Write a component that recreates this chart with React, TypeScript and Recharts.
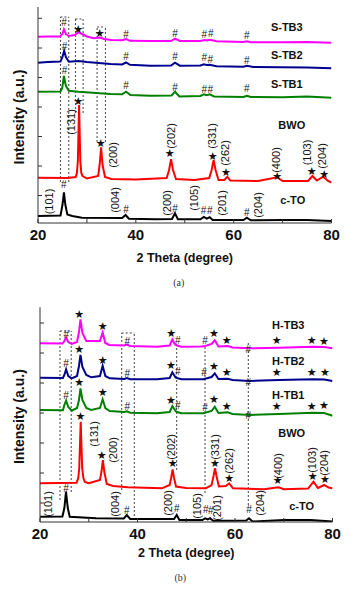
import React from 'react';
import { ComposedChart, Line, Scatter, XAxis, YAxis, ReferenceLine } from 'recharts';

const SANS = '"Liberation Sans", Arial, Helvetica, sans-serif';
const SERIF = '"Liberation Serif", "Times New Roman", serif';

const X_TICKS = [20, 30, 40, 50, 60, 70, 80];
const X_LABELED = [20, 40, 60, 80];
const COLORS = ['#ff00ff', '#00008f', '#008000', '#ff0000', '#000000'];

// ---------------- panel (a) ----------------
const aSTB3 = [[20,186.3],[22,186.5],[24.5,186.5],[25.0,189],[25.3,193.7],[25.7,189],[26.3,187],[27.5,188],[28.3,190.7],[29.0,189],[30,186.5],[31.4,184.7],[32.7,185.5],[33.5,184],[35,183],[37.2,182.7],[38.0,184],[38.8,182.2],[43,182],[47.2,182],[48.0,184.3],[49.0,182],[53.2,182],[54.0,183],[54.6,182.6],[55.2,183.3],[56.5,181.7],[62.0,181],[62.7,181.7],[63.5,180.7],[70,180.7],[75,181],[80,180.3]];
const aSTB2 = [[20,160.3],[22,161],[24.6,161.5],[25.0,166],[25.35,172.3],[25.7,166],[26.3,161.3],[28.3,162],[30,161],[34.8,159],[37.2,158.5],[38.0,160.5],[38.8,158.2],[43,157.3],[47.2,157.5],[48.0,160.3],[49,157.3],[53.2,157.5],[53.9,158.7],[54.5,158],[55.1,158.2],[56.5,156.7],[62,156.3],[62.7,157.2],[64,156],[75,155.5],[80,154.7]];
const aSTB1 = [[20,131.3],[24.6,131.5],[24.95,135],[25.3,147],[25.7,137],[26.3,132.3],[28.3,131.3],[34.8,129],[37.2,128.7],[38.0,131.3],[38.9,128],[43,127.3],[47.3,127.5],[48.0,131.3],[48.9,126.5],[53.2,127],[53.9,128.7],[54.5,127.8],[55.1,128.7],[56,126.5],[62,126],[62.7,127.3],[63.5,126],[70,125.7],[75,126.5],[80,125.3]];
const aBWO = [[20,45.3],[26,45],[27.7,46],[27.95,50],[28.15,62],[28.4,118],[28.65,62],[28.85,50],[29.1,47],[30,44.5],[32.3,47],[32.6,58],[32.9,75.7],[33.2,58],[33.7,46],[35,44],[40,43.5],[46.3,45],[46.8,53],[47.2,63.7],[47.6,53],[48.2,44],[52,43],[55.0,45],[55.5,53],[55.9,63],[56.3,53],[56.9,43],[58.1,43],[58.7,46.3],[59.3,42.5],[65,42],[68.9,45.7],[70,42],[75.2,42],[76.1,47],[77,42.5],[78.3,46.3],[79.3,42],[80,40.3]];
const aCTO = [[20,7],[24.6,7.5],[25.0,18],[25.3,30.7],[25.6,18],[26.0,8.5],[27,7],[29,5.3],[37.2,5],[37.9,8],[38.6,4.3],[44,3.7],[47.4,4],[48.0,9.7],[48.6,3.7],[53.2,3.7],[53.9,6],[54.5,4.3],[55.1,5.7],[55.7,3],[62,3],[62.7,5.3],[63.5,2.7],[70,3],[75,3],[80,2]];

const aMarks = [
  ['#',25.3,200.3],['★',28.2,193.7],['★',32.6,189.7],['#',38.0,188.7],['#',48.0,189.7],['#',54.0,188.3],['#',55.3,189.3],['#',62.7,188],
  ['#',25.4,177],['#',38.0,166.3],['#',48.0,166.3],['#',54.0,165.7],['#',55.2,164],['#',62.7,162.3],
  ['#',25.4,152.3],['#',38.0,137.7],['#',48.0,135.7],['#',54.0,134],['#',55.2,133.7],['#',62.7,134.7],
  ['★',28.2,121.3],['★',32.8,79.7],['★',46.9,69.7],['★',55.7,66.3],['★',58.4,50.3],['★',68.9,47],['★',75.95,51.3],['★',78.5,49],
  ['#',25.27,39],['#',38.0,13.7],['#',48.0,14.7],['#',53.84,13],['#',55.1,13],['#',62.7,10.3],
];
const aHkl = [
  ['(101)',22.29,21.5],['(131)',26.84,101],['(200)',35.41,68],['(202)',47.24,87],['(331)',55.55,87],['(262)',58.27,70],
  ['(400)',68.67,63],['(103)',74.94,70.5],['(204)',78.0,67],['(004)',35.82,23],['(200)',46.37,20],['(105)',51.94,25],
  ['(201)',57.59,20],['(204)',65.06,18],
];
const aNames = [['S-TB3',70.86,196.3],['S-TB2',70.86,168],['S-TB1',70.86,139],['BWO',71.88,98],['c-TO',72.08,23]];
const aGuides = [[24.59,41,206],[26.29,41,206],[27.65,110,204],[29.22,110,204],[32.08,81,196],[33.78,81,196]];
const aCaps = [[24.59,26.29,206],[27.65,29.22,204],[32.08,33.78,196]];
const aYTicks = [27.5,57,86.5,116,145.5,175,204.7];

// ---------------- panel (b) ----------------
const bHTB3 = [[20,178.7],[24.6,178.5],[25.0,181],[25.35,184.5],[25.8,180],[26.5,178],[27.6,180],[28.0,190],[28.3,202.7],[28.7,189],[29.5,181],[30.3,181],[32.3,181],[32.85,189.5],[33.4,179],[34.2,177],[37.3,176.5],[37.8,177.5],[38.5,176],[44,175.3],[46.6,176.5],[47.15,182.5],[47.7,177.5],[48.1,176.5],[49,175.3],[53,175.5],[53.9,176],[55.2,178],[55.85,181.7],[56.6,175.5],[58.5,176],[59.5,174.5],[63,173.7],[69,174.3],[76,175.3],[78.3,175],[80,173.7]];
const bHTB2 = [[20,144.3],[24.7,144],[25.0,147],[25.35,152.7],[25.8,146],[26.5,143.7],[27.6,146],[28.0,156],[28.3,167],[28.7,155],[29.5,147],[30.5,144.7],[32.3,146],[32.85,156.3],[33.4,146],[34.3,143.7],[37.3,143],[37.8,144],[38.5,142.7],[44,142.7],[46.6,144],[47.15,149.7],[47.8,144.5],[48.1,144],[49,142.7],[53.5,142.7],[55.2,145],[55.85,148.7],[56.6,143],[58.5,143.3],[59.5,142],[63,141],[69,142],[76,142.7],[78.3,142.5],[80,141]];
const bHTB1 = [[20,112],[24.7,111.7],[25.0,117],[25.35,121.3],[25.8,115],[26.5,111.3],[27.6,114],[28.0,122],[28.3,133.7],[28.7,122],[29.5,114],[30.5,112],[32.3,114],[32.85,122.7],[33.4,114],[34.3,111],[37.3,110],[37.8,110.7],[38.5,109.3],[44,108.7],[46.6,110],[47.15,116],[47.8,111],[48.1,110],[49,108.7],[53.5,108.7],[55.2,111],[55.85,115.3],[56.6,109],[58.5,109.7],[59.5,108],[63,107],[69,108],[76,109.3],[78.3,109],[80,106.3]];
const bBWO = [[20,38.7],[27.5,39.3],[27.85,44],[28.05,54],[28.35,100.3],[28.65,54],[28.9,44],[29.2,40],[30,38.7],[32.3,42],[32.6,50],[32.9,62],[33.2,50],[33.7,38],[35,36],[38,34.7],[45,33.7],[46.6,37],[46.9,44],[47.2,52.7],[47.5,44],[47.9,35.5],[50,34],[54,33.7],[55.2,37],[55.6,46],[55.9,53.7],[56.2,46],[56.7,35.5],[58.1,36],[58.8,38.7],[59.6,33.7],[66,32.7],[68.9,34.7],[70,32.7],[75,33.5],[76.1,40.3],[77,34],[78.3,37],[79.2,34.5],[80,33.7]];
const bCTO = [[20,5.3],[24.6,5.5],[25.0,14],[25.33,30.3],[25.7,14],[26.1,5.3],[31.5,3.7],[37.2,3.5],[37.8,7],[38.5,3],[47.5,3],[48.04,7],[48.6,2],[53.3,2],[53.85,3.7],[54.4,2.5],[54.87,3.7],[55.5,1.3],[62.3,1.5],[62.87,3.7],[63.6,0.5],[70,2],[75.5,2],[80,0.5]];

const bMarks = [
  ['#',25.4,188],['★',28.06,208],['★',32.86,195.3],['#',37.9,181],['★',46.9,188.7],['#',48.25,181.3],['#',53.85,181.3],['★',55.7,188.7],['★',58.3,182],['#',62.73,172.7],['★',68.55,182],['★',75.73,182],['★',78.26,180.3],
  ['#',25.33,158.7],['★',28.06,172.7],['★',32.86,162],['#',37.9,148.7],['★',46.87,156.3],['#',48.25,150.3],['#',53.64,149.3],['★',55.69,155.3],['★',58.3,149.7],['#',62.73,139.3],['★',68.55,149.7],['★',75.73,149.7],['★',78.46,149.7],
  ['#',25.33,126.3],['★',28.06,139.3],['★',32.86,129.3],['#',37.9,115.3],['★',46.87,122],['#',48.25,117],['#',53.85,114.7],['★',55.69,122.7],['★',58.3,115.3],['#',62.73,106.3],['★',68.55,115.3],['★',75.73,116],['★',78.26,116.3],
  ['★',28.3,106],['★',32.66,67],['★',47.22,58.7],['★',55.9,58.7],['★',58.83,43.7],['★',68.76,41.3],['★',75.94,45.3],['★',78.46,42.7],
  ['#',25.33,33.7],['#',37.78,12],['#',48.04,13.7],['#',53.99,12.7],['#',55.02,12],['#',62.87,12.7],
];
const bHkl = [
  ['(101)',21.7,18],['(131)',31.08,88],['(200)',35.04,72],['(004)',35.38,18],['(202)',46.97,75],['(200)',46.32,19],
  ['(331)',55.9,75],['(262)',58.83,61],['(400)',68.88,56],['(103)',75.73,62],['(204)',78.26,59],['(105)',52.14,16],
  ['(201)',56.25,14],['(204)',65.13,19],
];
const bNames = [['H-TB3',70.93,197],['H-TB2',70.93,161],['H-TB1',70.93,127],['BWO',71.63,88.7],['c-TO',73.68,16]];
const bGuides = [[24.1,22,191],[26.4,30,191],[36.76,32,189],[39.34,6,189],[48.04,52,180],[53.85,29,175],[62.73,17,180]];
const bCaps = [[24.1,26.4,191],[36.76,39.34,189]];
const bYTicks = [19,49,79,109,139,169,199];

const toPts = (a: number[][]) => a.map(([x, y]) => ({ x, y }));
const toTxt = (a: any[][]) => a.map(([t, x, y]) => ({ t, x, y }));

const MarkShape = (props: any) => {
  const { cx, cy, payload } = props;
  const star = payload.t === '★';
  return (
    <text x={cx} y={cy} textAnchor="middle" dominantBaseline="central"
      fontSize={star ? 11 : 10} fontFamily={star ? '"DejaVu Sans", sans-serif' : SANS} fill="#111">
      {payload.t}
    </text>
  );
};

const HklShape = (props: any) => {
  const { cx, cy, payload } = props;
  return (
    <text x={cx} y={cy} transform={`rotate(-90 ${cx} ${cy})`} textAnchor="middle" dominantBaseline="central"
      fontSize={11} fontFamily={SANS} fill="#111">
      {payload.t}
    </text>
  );
};

const NameShape = (props: any) => {
  const { cx, cy, payload } = props;
  return (
    <text x={cx} y={cy} textAnchor="middle" dominantBaseline="central"
      fontSize={11} fontWeight={700} fontFamily={SANS} fill="#111">
      {payload.t}
    </text>
  );
};

type PanelProps = {
  height: number;
  margin: any;
  yAxisWidth: number;
  yMax: number;
  yTicks: number[];
  series: number[][][];
  marks: any[][];
  hkl: any[][];
  names: any[][];
  guides: number[][];
  caps: number[][];
  caption: string;
  titleDy: number;
  capDy: number;
};

function Panel(p: PanelProps) {
  const XTitle = (lp: any) => {
    const vb = lp.viewBox || { x: p.yAxisWidth, y: 0, width: 293, height: 40 };
    const cx = vb.x + vb.width / 2;
    return (
      <g>
        <text x={cx} y={vb.y + p.titleDy} textAnchor="middle" dominantBaseline="central"
          fontSize={12.5} fontWeight={700} fontFamily={SANS} fill="#111">2 Theta (degree)</text>
        <text x={cx - 6} y={vb.y + p.capDy} textAnchor="middle" dominantBaseline="central"
          fontSize={10} fontFamily={SERIF} fill="#333">{p.caption}</text>
      </g>
    );
  };
  const YTitle = (lp: any) => {
    const vb = lp.viewBox || { x: 0, y: 0, width: p.yAxisWidth, height: 200 };
    const cx = vb.x + 19;
    const cy = vb.y + vb.height / 2 + 2;
    return (
      <text x={cx} y={cy} transform={`rotate(-90 ${cx} ${cy})`} textAnchor="middle" dominantBaseline="central"
        fontSize={14} fontWeight={700} fontFamily={SANS} fill="#111">Intensity (a.u.)</text>
    );
  };
  const frame = { stroke: '#333', strokeWidth: 1 };
  return (
    <ComposedChart width={356} height={p.height} margin={p.margin}>
      <XAxis dataKey="x" type="number" domain={[20, 80]} ticks={X_TICKS} allowDataOverflow height={40}
        tickSize={-4} tickMargin={10}
        tickFormatter={(v: number) => (X_LABELED.includes(v) ? String(v) : '')}
        tick={{ fontSize: 15, fontWeight: 700, fill: '#111', fontFamily: SANS }}
        axisLine={frame} tickLine={frame} label={XTitle} />
      <XAxis xAxisId="t" orientation="top" type="number" domain={[20, 80]} ticks={X_TICKS} allowDataOverflow
        height={0} tickSize={-4} tickFormatter={() => ''} axisLine={frame} tickLine={frame} />
      <YAxis dataKey="y" type="number" domain={[0, p.yMax]} ticks={p.yTicks} allowDataOverflow width={p.yAxisWidth}
        tickSize={-4} tickFormatter={() => ''} axisLine={frame} tickLine={frame} label={YTitle} />
      <YAxis yAxisId="r" orientation="right" type="number" domain={[0, p.yMax]} ticks={p.yTicks} allowDataOverflow
        width={0} tickSize={-4} tickFormatter={() => ''} axisLine={frame} tickLine={frame} />
      {p.guides.map(([x, y1, y2], i) => (
        <ReferenceLine key={'g' + i} segment={[{ x, y: y1 }, { x, y: y2 }]} stroke="#444" strokeWidth={1} strokeDasharray="2 2" />
      ))}
      {p.caps.map(([x1, x2, y], i) => (
        <ReferenceLine key={'c' + i} segment={[{ x: x1, y }, { x: x2, y }]} stroke="#444" strokeWidth={1} strokeDasharray="2 2" />
      ))}
      {p.series.map((s, i) => (
        <Line key={'s' + i} data={toPts(s)} dataKey="y" type="linear" stroke={COLORS[i]} strokeWidth={2}
          dot={false} activeDot={false} isAnimationActive={false} />
      ))}
      <Scatter data={toTxt(p.marks)} dataKey="y" shape={MarkShape} isAnimationActive={false} />
      <Scatter data={toTxt(p.hkl)} dataKey="y" shape={HklShape} isAnimationActive={false} />
      <Scatter data={toTxt(p.names)} dataKey="y" shape={NameShape} isAnimationActive={false} />
    </ComposedChart>
  );
}

export default function App() {
  return (
    <div style={{ position: 'absolute', left: 0, top: 0, width: 356, height: 589, background: '#fff' }}>
      <div style={{ position: 'absolute', left: 0, top: 0 }}>
        <Panel height={295} margin={{ top: 7, right: 24.5, left: 0, bottom: 32 }} yAxisWidth={38} yMax={216}
          yTicks={aYTicks} series={[aSTB3, aSTB2, aSTB1, aBWO, aCTO]} marks={aMarks} hkl={aHkl} names={aNames}
          guides={aGuides} caps={aCaps} caption="(a)" titleDy={35} capDy={59} />
      </div>
      <div style={{ position: 'absolute', left: 0, top: 295 }}>
        <Panel height={294} margin={{ top: 12.3, right: 23.5, left: 0, bottom: 27 }} yAxisWidth={40} yMax={214.7}
          yTicks={bYTicks} series={[bHTB3, bHTB2, bHTB1, bBWO, bCTO]} marks={bMarks} hkl={bHkl} names={bNames}
          guides={bGuides} caps={bCaps} caption="(b)" titleDy={31} capDy={55} />
      </div>
    </div>
  );
}
